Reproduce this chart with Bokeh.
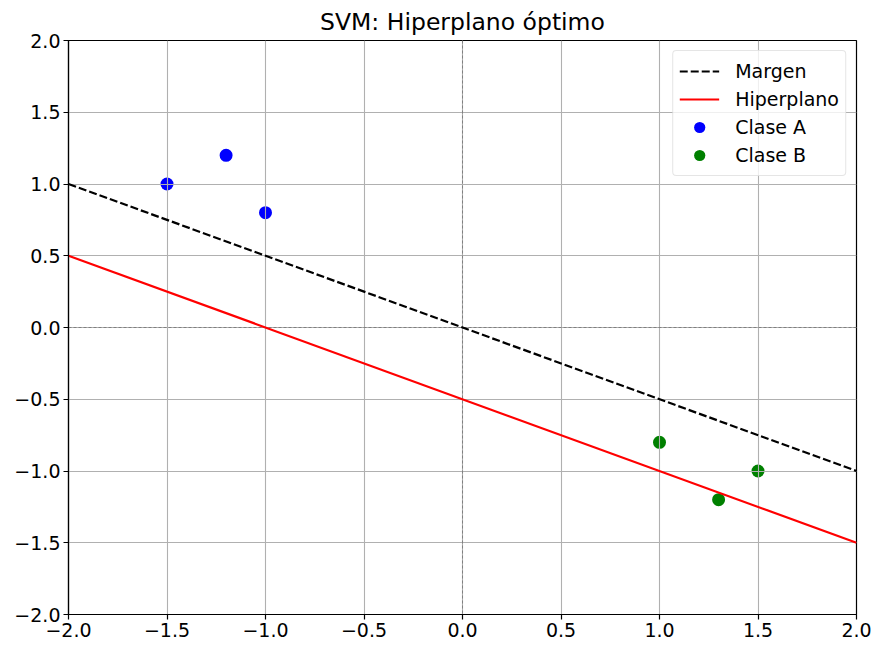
from bokeh.plotting import figure
from bokeh.models import Range1d, FixedTicker, CustomJSTickFormatter, Span, Legend, LegendItem
from bokeh.embed import file_html
from bokeh.resources import INLINE

# Separating hyperplane and margin line, given by their end points
line_x = [-2.0, 2.0]
margen_y = [1.0, -1.0]
hiperplano_y = [0.5, -1.5]

# Training points of both classes
clase_a_x = [-1.5, -1.2, -1.0]
clase_a_y = [1.0, 1.2, 0.8]
clase_b_x = [1.0, 1.3, 1.5]
clase_b_y = [-0.8, -1.2, -1.0]

ticks = [-2.0, -1.5, -1.0, -0.5, 0.0, 0.5, 1.0, 1.5, 2.0]

FONT = "DejaVu Sans"

p = figure(width=873, height=647, output_backend="svg", toolbar_location=None,
           x_range=Range1d(-2, 2), y_range=Range1d(-2, 2),
           min_border_left=68, min_border_right=17, min_border_top=40, min_border_bottom=33,
           title="SVM: Hiperplano óptimo")

p.title.align = "center"
p.title.text_font = FONT
p.title.text_font_size = "23.5px"
p.title.text_font_style = "normal"
p.title.text_color = "black"
p.title.standoff = 10

p.outline_line_color = "black"
p.outline_line_width = 1.2
p.outline_line_alpha = 1.0

fmt = CustomJSTickFormatter(code="return tick.toFixed(1).replace('-', '\u2212');")
for ax in (p.xaxis[0], p.yaxis[0]):
    ax.ticker = FixedTicker(ticks=ticks)
    ax.formatter = fmt
    ax.major_label_text_font = FONT
    ax.major_label_text_font_size = "19px"
    ax.major_label_text_color = "black"
    ax.axis_line_color = "black"
    ax.axis_line_width = 1.2
    ax.major_tick_line_color = "black"
    ax.major_tick_line_width = 1.2
    ax.major_tick_out = 5
    ax.major_tick_in = 0
    ax.minor_tick_line_color = None
    ax.major_label_standoff = 3

for g in (p.xgrid[0], p.ygrid[0]):
    g.grid_line_color = "#b0b0b0"
    g.grid_line_width = 1.1
    g.level = "underlay"

# Reference lines through the origin
for dim in ("width", "height"):
    p.add_layout(Span(location=0, dimension=dim, line_color="gray",
                      line_width=1.0, line_dash="3 2", level="underlay"))

r_margen = p.line(line_x, margen_y, line_color="black", line_width=2.2, line_dash="8 3")
r_hiper = p.line(line_x, hiperplano_y, line_color="red", line_width=2.2)
r_a = p.scatter(clase_a_x, clase_a_y, size=13, marker="circle", fill_color="blue",
                line_color=None, level="image")
r_b = p.scatter(clase_b_x, clase_b_y, size=13, marker="circle", fill_color="green",
                line_color=None, level="image")

legend = Legend(items=[
    LegendItem(label="Margen", renderers=[r_margen]),
    LegendItem(label="Hiperplano", renderers=[r_hiper]),
    LegendItem(label="Clase A", renderers=[r_a]),
    LegendItem(label="Clase B", renderers=[r_b]),
], location="top_right")
legend.label_text_font = FONT
legend.label_text_font_size = "19px"
legend.label_text_color = "black"
legend.label_height = 28
legend.glyph_height = 28
legend.glyph_width = 40
legend.label_standoff = 16
legend.spacing = 0
legend.padding = 6
legend.margin = 10
legend.border_line_color = "#cccccc"
legend.border_line_width = 1
legend.background_fill_alpha = 0.8
if "border_radius" in legend.properties():
    legend.border_radius = 4
p.add_layout(legend)

open("out.html", "w").write(file_html(p, INLINE))
